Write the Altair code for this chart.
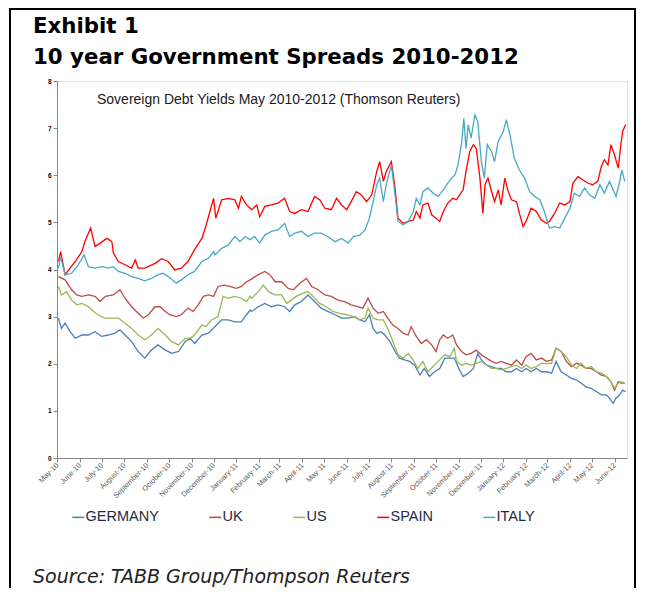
import altair as alt
import pandas as pd

START = pd.Timestamp("2010-05-01")

# (days since 1 May 2010, yield %)
germany = [(2,2.97),(6,2.75),(11,2.86),(18,2.68),(25,2.54),(34,2.61),(43,2.61),(52,2.68),(61,2.58),(70,2.61),(79,2.65),(86,2.72),(93,2.61),(102,2.47),(111,2.26),(120,2.12),(129,2.29),(138,2.40),(148,2.29),(157,2.22),(166,2.26),(175,2.47),(182,2.54),(188,2.43),(198,2.61),(207,2.65),(216,2.79),(225,2.93),(234,2.93),(243,2.89),(252,2.89),(259,3.04),(264,3.14),(266,3.11),(275,3.21),(284,3.28),(293,3.21),(302,3.25),(311,3.21),(318,3.11),(325,3.25),(334,3.32),(343,3.46),(352,3.32),(361,3.18),(370,3.11),(380,3.04),(389,2.97),(398,2.97),(407,3.00),(414,2.93),(421,2.89),(427,3.04),(432,2.75),(437,2.65),(443,2.68),(448,2.61),(455,2.47),(462,2.26),(468,2.12),(475,2.08),(482,2.05),(489,1.97),(496,1.76),(502,1.90),(509,1.73),(516,1.83),(523,1.90),(530,2.12),(537,2.12),(543,2.12),(550,1.87),(555,1.73),(562,1.80),(569,1.90),(575,2.22),(580,2.08),(587,1.97),(594,1.94),(600,1.90),(607,1.90),(614,1.83),(621,1.83),(628,1.90),(635,1.83),(641,1.90),(648,1.83),(655,1.90),(662,1.83),(669,1.83),(676,1.80),(682,2.05),(689,1.83),(696,1.76),(703,1.69),(710,1.66),(716,1.59),(723,1.51),(730,1.48),(737,1.41),(744,1.34),(751,1.34),(755,1.27),(760,1.16),(764,1.27),(769,1.34),(773,1.44),(777,1.41)]

uk = [(2,3.85),(11,3.78),(20,3.57),(27,3.46),(34,3.43),(43,3.46),(52,3.43),(59,3.32),(66,3.43),(77,3.46),(86,3.57),(93,3.39),(102,3.21),(111,3.07),(118,2.97),(125,3.04),(134,3.21),(141,3.21),(148,3.11),(154,3.04),(163,3.00),(170,3.04),(179,3.18),(186,3.11),(193,3.25),(200,3.43),(207,3.46),(214,3.43),(220,3.64),(229,3.67),(236,3.64),(245,3.60),(252,3.64),(259,3.74),(264,3.78),(275,3.89),(284,3.96),(291,3.89),(298,3.74),(307,3.74),(316,3.60),(323,3.57),(332,3.71),(341,3.81),(348,3.64),(357,3.57),(366,3.46),(375,3.43),(384,3.35),(393,3.32),(402,3.25),(411,3.21),(418,3.18),(425,3.39),(432,3.18),(439,3.07),(446,3.11),(452,2.97),(459,2.82),(466,2.75),(473,2.65),(480,2.61),(484,2.79),(491,2.58),(498,2.43),(505,2.51),(512,2.40),(518,2.26),(523,2.51),(528,2.61),(534,2.54),(541,2.61),(546,2.40),(553,2.26),(559,2.19),(566,2.22),(573,2.29),(580,2.19),(587,2.12),(594,2.05),(600,2.01),(607,2.05),(614,2.01),(621,1.97),(628,2.08),(635,1.97),(641,2.15),(648,2.22),(655,2.08),(662,2.12),(669,2.05),(676,2.08),(682,2.33),(689,2.26),(696,2.05),(703,1.94),(710,2.01),(716,1.97),(723,1.90),(730,1.90),(737,1.83),(744,1.76),(751,1.73),(757,1.62),(762,1.44),(767,1.62),(771,1.59),(776,1.59)]

us = [(2,3.64),(6,3.46),(13,3.53),(20,3.35),(27,3.25),(34,3.28),(43,3.21),(50,3.11),(56,3.04),(65,2.97),(75,2.97),(84,2.97),(93,2.86),(102,2.75),(111,2.61),(120,2.51),(129,2.61),(138,2.75),(148,2.61),(157,2.47),(166,2.40),(175,2.54),(182,2.54),(188,2.61),(198,2.82),(204,2.79),(211,2.93),(220,3.00),(227,3.43),(234,3.39),(243,3.43),(252,3.39),(259,3.32),(264,3.43),(266,3.39),(275,3.53),(282,3.67),(289,3.53),(298,3.46),(307,3.46),(314,3.28),(320,3.35),(327,3.43),(336,3.50),(343,3.53),(350,3.43),(359,3.28),(368,3.21),(377,3.11),(386,3.07),(396,3.04),(405,3.00),(414,2.93),(421,2.97),(425,3.18),(432,2.97),(439,2.93),(446,2.93),(452,2.75),(459,2.47),(466,2.19),(473,2.12),(480,2.22),(487,2.08),(493,1.90),(500,2.05),(507,1.83),(514,1.94),(521,2.05),(530,2.19),(537,2.15),(543,2.33),(546,2.05),(553,1.97),(559,2.01),(566,1.97),(573,2.01),(580,2.05),(587,1.97),(594,1.90),(600,1.90),(607,1.87),(614,1.90),(621,1.94),(628,1.97),(635,1.90),(641,1.97),(648,1.90),(655,1.94),(662,2.01),(669,2.01),(676,2.01),(682,2.33),(689,2.26),(696,2.15),(703,1.97),(710,1.90),(716,2.01),(723,1.90),(730,1.94),(737,1.83),(744,1.80),(751,1.73),(757,1.62),(762,1.48),(767,1.59),(771,1.62),(776,1.59)]

spain = [(2,4.17),(5,4.38),(11,3.89),(25,4.17),(34,4.38),(38,4.59),(46,4.88),(52,4.49),(59,4.56),(68,4.66),(75,4.59),(77,4.35),(84,4.17),(93,4.10),(102,4.03),(107,4.20),(111,4.03),(120,4.03),(134,4.13),(143,4.23),(152,4.17),(161,3.99),(170,4.03),(179,4.17),(188,4.42),(198,4.66),(204,4.95),(209,5.23),(214,5.51),(217,5.09),(220,5.23),(225,5.48),(234,5.51),(243,5.48),(248,5.30),(252,5.55),(259,5.37),(264,5.30),(266,5.27),(273,5.37),(277,5.12),(284,5.34),(293,5.37),(302,5.41),(311,5.51),(318,5.23),(325,5.19),(334,5.27),(343,5.23),(352,5.55),(359,5.48),(366,5.30),(375,5.27),(382,5.51),(389,5.37),(396,5.27),(402,5.44),(409,5.65),(416,5.58),(423,5.44),(430,5.58),(437,6.08),(441,6.29),(446,5.87),(450,6.08),(457,6.29),(462,5.73),(466,5.09),(473,4.98),(480,5.02),(487,5.05),(491,5.23),(496,5.09),(500,5.37),(507,5.41),(512,5.16),(518,5.09),(523,5.02),(528,5.23),(534,5.41),(541,5.51),(546,5.48),(550,5.58),(555,5.69),(559,6.08),(564,6.50),(569,6.65),(573,6.57),(578,5.94),(582,5.19),(585,5.80),(589,5.94),(594,5.65),(598,5.44),(603,5.69),(607,5.37),(612,5.94),(616,5.69),(621,5.48),(628,5.44),(632,5.19),(637,4.91),(641,5.02),(648,5.30),(655,5.23),(662,5.05),(669,4.98),(673,5.02),(680,5.19),(687,5.41),(694,5.37),(701,5.44),(705,5.83),(712,5.97),(719,5.90),(726,5.83),(732,5.80),(739,5.87),(744,6.19),(748,6.33),(753,6.22),(757,6.65),(762,6.43),(767,6.15),(770,6.57),(773,6.93),(777,7.07)]

italy = [(2,4.03),(5,4.27),(11,3.89),(20,3.92),(29,4.10),(37,4.31),(43,4.06),(52,4.03),(61,4.06),(70,4.03),(77,4.06),(84,3.96),(93,3.92),(102,3.85),(111,3.81),(120,3.76),(129,3.81),(138,3.89),(145,3.92),(152,3.85),(163,3.71),(170,3.78),(179,3.89),(188,3.96),(198,4.17),(207,4.24),(214,4.38),(216,4.31),(225,4.45),(234,4.52),(243,4.70),(250,4.59),(257,4.70),(264,4.63),(270,4.70),(277,4.56),(284,4.73),(293,4.81),(302,4.84),(311,4.98),(318,4.70),(325,4.77),(334,4.81),(343,4.70),(352,4.77),(361,4.77),(370,4.70),(380,4.59),(389,4.66),(398,4.56),(405,4.70),(414,4.73),(421,4.84),(427,5.09),(432,5.44),(437,5.80),(441,5.94),(446,5.44),(450,5.80),(457,6.22),(462,5.58),(466,5.02),(473,4.95),(480,5.02),(487,5.23),(491,5.51),(496,5.37),(500,5.65),(507,5.73),(514,5.62),(521,5.55),(530,5.73),(537,5.90),(544,6.01),(548,6.22),(553,6.68),(556,7.21),(559,6.57),(562,7.07),(566,6.79),(571,7.28),(575,7.14),(580,6.29),(584,5.94),(588,6.65),(594,6.50),(598,6.29),(603,6.72),(610,6.93),(614,7.18),(619,6.86),(625,6.36),(632,6.11),(639,5.94),(646,5.65),(653,5.55),(660,5.48),(666,5.23),(673,4.88),(680,4.91),(687,4.88),(694,5.09),(701,5.30),(707,5.62),(714,5.55),(721,5.73),(728,5.58),(735,5.51),(742,5.80),(748,5.62),(755,5.87),(764,5.55),(769,5.87),(772,6.11),(776,5.87)]

names = ["GERMANY", "UK", "US", "SPAIN", "ITALY"]
colors = ["#4A7EBB", "#BE4B48", "#98B954", "#FF0000", "#46AAC5"]
series = [germany, uk, us, spain, italy]

rows = []
for i, (name, pts) in enumerate(zip(names, series)):
    for d, v in pts:
        rows.append({
            "country": name,
            "order": i,
            "date": (START + pd.Timedelta(days=d)).strftime("%Y-%m-%dT%H:%M:%S"),
            "yield": v,
        })
df = pd.DataFrame(rows)

lines = alt.Chart(df).mark_line(strokeWidth=1.3).encode(
    x=alt.X(
        "date:T",
        scale=alt.Scale(domain=[alt.DateTime(year=2010, month=5, date=1),
                                alt.DateTime(year=2012, month=6, date=18)]),
        axis=alt.Axis(
            title=None, format="%B-%y",
            tickCount={"interval": "month", "step": 1},
            labelAngle=315, labelAlign="right", labelBaseline="middle",
            labelFontSize=7.3, labelFont="Liberation Sans", labelColor="#595959",
            labelPadding=2, labelOverlap=False, labelFlush=False,
            tickColor="#868686", tickSize=4, domainColor="#868686", grid=False,
        ),
    ),
    y=alt.Y(
        "yield:Q",
        scale=alt.Scale(domain=[0, 8], nice=False),
        axis=alt.Axis(
            title=None, values=list(range(9)), format="d",
            labelFontSize=6.5, labelFontWeight="bold", labelColor="black",
            labelFont="Liberation Sans", labelPadding=2,
            tickColor="#868686", tickSize=4, domainColor="#868686", grid=False,
        ),
    ),
    color=alt.Color(
        "country:N",
        scale=alt.Scale(domain=names, range=colors),
        legend=alt.Legend(
            title=None, orient="none", legendX=14, legendY=429,
            direction="horizontal", symbolType="stroke", symbolSize=144,
            symbolStrokeWidth=1.5, labelFontSize=14.5,
            labelFont="Liberation Sans",
            labelColor="#1F2A44", columnPadding=47, labelOffset=0,
        ),
    ),
    detail="order:N",
)

one = pd.DataFrame({"k": [0]})

frame = alt.Chart(one).mark_rect(filled=False, stroke="black", strokeWidth=2).encode(
    x=alt.value(-47), x2=alt.value(578), y=alt.value(-72), y2=alt.value(560)
)

def label(text, x, y, size, font, weight="normal", style="normal", color="black"):
    return alt.Chart(one).mark_text(
        align="left", baseline="alphabetic", fontSize=size, font=font,
        fontWeight=weight, fontStyle=style, color=color,
    ).encode(x=alt.value(x), y=alt.value(y), text=alt.value(text))

t1 = label("Exhibit 1", -24, -48, 21.3, "DejaVu Sans", weight="bold")
t2 = label("10 year Government Spreads 2010-2012", -24, -17, 21.3, "DejaVu Sans", weight="bold")
sub = label("Sovereign Debt Yields May 2010-2012 (Thomson Reuters)", 40, 23, 14,
            "Liberation Sans", color="#1a1a1a")
src = label("Source:  TABB Group/Thompson Reuters", -24, 502, 19, "DejaVu Sans",
            style="italic", color="#222222")

chart = alt.layer(frame, lines, t1, t2, sub, src).properties(
    width=570, height=377,
    autosize=alt.AutoSizeParams(type="none"),
    padding={"left": 49, "top": 73, "right": 10, "bottom": 130},
).configure_view(strokeWidth=0).configure(background="white")

chart.save("out.html", embed_options={"renderer": "svg", "actions": False})
